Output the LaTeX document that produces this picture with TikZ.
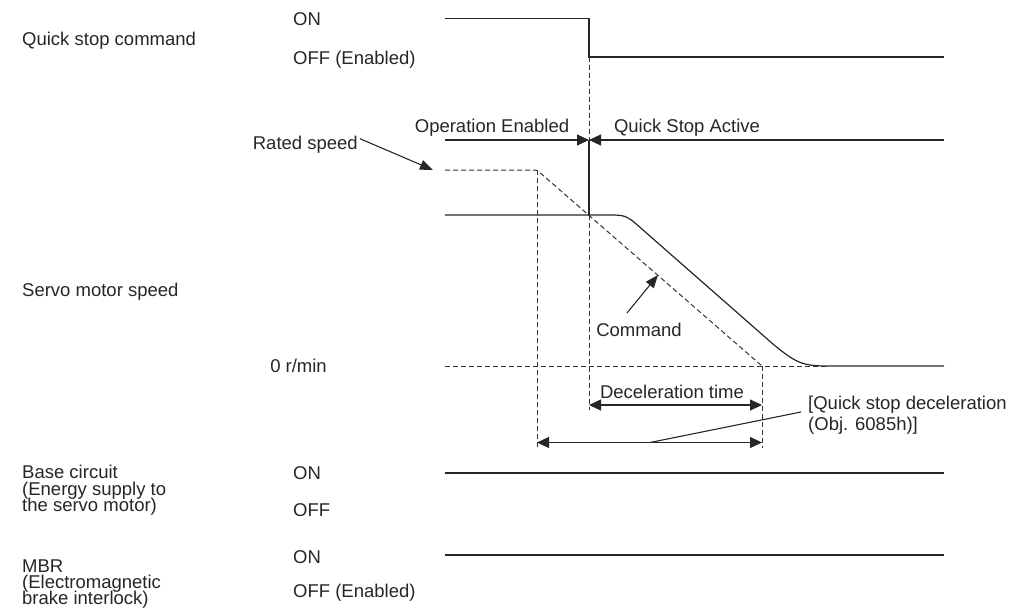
\documentclass[tikz,border=0pt]{standalone}
\usepackage{fontspec}
\setmainfont{Liberation Sans}
\usetikzlibrary{arrows.meta}
\begin{document}
\begin{tikzpicture}[x=1pt,y=-1pt,
  sig/.style={line width=1.2pt,black!85},
  dsh/.style={line width=1pt,black!80,dash pattern=on 5pt off 3pt},
  txt/.style={inner sep=0pt,font=\fontsize{18.5}{16}\selectfont,text=black!85},
  lbl/.style={txt,anchor=base west},
  tri/.style={-{Triangle[length=12pt,width=11pt]}},
  dbl/.style={{Triangle[length=12pt,width=11pt]}-{Triangle[length=12pt,width=11pt]}},
  lead/.style={line width=1.1pt,black!85,-{Triangle[length=13pt,width=10pt]}}]
\useasboundingbox (0,0) rectangle (1010,608);
% ---- left labels
\node[lbl] (lqs) at (22,45.5) {Quick stop command};
\node[lbl] (lsp) at (22,296.5) {Servo motor speed};
\node[lbl] (lbc1) at (22,478.5) {Base circuit};
\node[lbl] (lbc2) at (22,495) {(Energy supply to};
\node[lbl] (lbc3) at (22,511.5) {the servo motor)};
\node[lbl] (lmb1) at (22,572.5) {MBR};
\node[lbl] (lmb2) at (22,588.5) {(Electromagnetic};
\node[lbl] (lmb3) at (22,604) {brake interlock)};
% ---- level labels
\node[lbl] (qon) at (293,25.5) {ON};
\node[lbl] (qoff) at (293,64.5) {OFF (Enabled)};
\node[txt,anchor=base east] (zero) at (327,372.5) {0 r/min};
\node[lbl] (bon) at (293,479.5) {ON};
\node[lbl] (boff) at (293,516.5) {OFF};
\node[lbl] (mon) at (293,563.5) {ON};
\node[lbl] (moff) at (293,597.5) {OFF (Enabled)};
% ---- coordinates
\coordinate (q0) at (445,18.5);
\coordinate (q1) at (589,18.5);
\coordinate (q2) at (589,57);
\coordinate (q3) at (944,57);
\coordinate (a0) at (445,140);
\coordinate (am) at (589,140);
\coordinate (a1) at (944,140);
\coordinate (s0) at (445,215);
\coordinate (sm) at (589,215);
\coordinate (zv) at (589,410);
\coordinate (r0) at (445,170);
\coordinate (rc) at (537,170);
\coordinate (rz) at (762,366);
\coordinate (rb) at (537,448);
\coordinate (zb) at (762,448);
\coordinate (z0) at (445,366);
\coordinate (z1) at (826,366);
\coordinate (s1) at (944,366);
\coordinate (d0) at (589,405);
\coordinate (d1) at (762,405);
\coordinate (e0) at (537,442.5);
\coordinate (e1) at (762,442.5);
\coordinate (lf) at (650,442.5);
\coordinate (lt) at (801,412);
\coordinate (b0) at (445,473);
\coordinate (b1) at (944,473);
\coordinate (m0) at (445,555);
\coordinate (m1) at (944,555);
% ---- quick stop signal
\draw[sig] (q0) -- (q1) -- (q2) -- (q3);
\draw[dsh] (q2) -- (am);
\draw[sig] (am) -- (sm);
\draw[dsh] (sm) -- (zv);
% ---- state arrows
\draw[sig,tri] (a0) -- (am);
\draw[sig,tri] (a1) -- (am);
\node[txt,anchor=base] (opn) at (492,132.5) {Operation Enabled};
\node[txt,anchor=base] (qsa) at (687,132.5) {Quick Stop Active};
% ---- speed
\node[txt,anchor=base east] (rated) at (358,149.5) {Rated speed};
\draw[lead] (rated.east) ++(2,-6) -- (433,170);
\draw[dsh] (r0) -- (531,170) .. controls (rc) .. (541.5,174) -- (rz);
\draw[dsh] (rc) -- (rb);
\draw[dsh] (rz) -- (zb);
\draw[dsh] (z0) -- (z1);
\draw[sig] (s0) -- (606,215) .. controls (626,215) .. (641,228.2)
  -- (772,343.2) .. controls (799,366) and (805,366) .. (834,366) -- (s1);
\node[txt,anchor=base] (cmd) at (639,336.5) {Command};
\draw[lead] (627,313) -- (658,275);
% ---- deceleration
\node[txt,anchor=base] (dec) at (672,398.5) {Deceleration time};
\draw[sig,dbl] (d0) -- (d1);
\draw[sig,dbl] (e0) -- (e1);
\draw[line width=1.1pt,black!85] (lf) -- (lt);
\node[lbl] (qsd1) at (808,409.5) {[Quick stop deceleration};
\node[lbl] (qsd2) at (808,430) {(Obj. 6085h)]};
% ---- base circuit / MBR
\draw[sig] (b0) -- (b1);
\draw[sig] (m0) -- (m1);
\end{tikzpicture}
\end{document}
